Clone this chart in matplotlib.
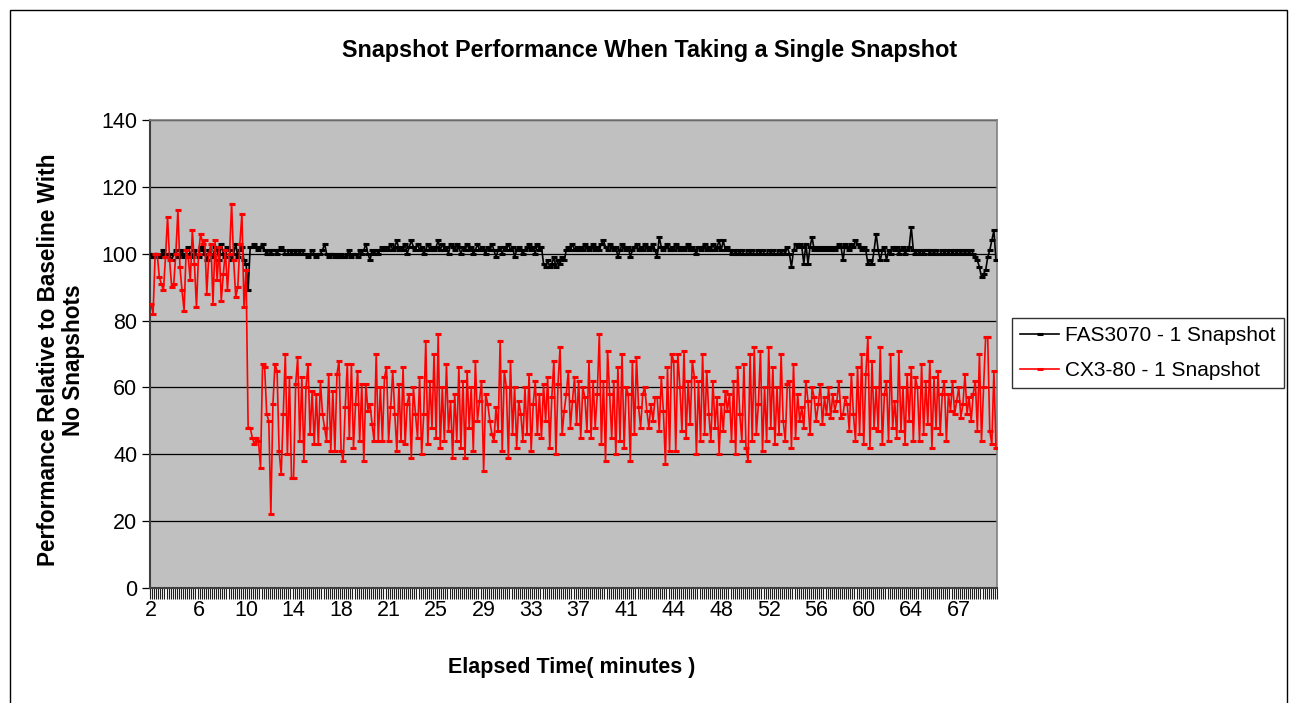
import matplotlib
matplotlib.use("Agg")
import matplotlib.pyplot as plt
from matplotlib.patches import Rectangle
from matplotlib.ticker import FixedLocator

plt.rcParams['font.family'] = ['Liberation Sans', 'DejaVu Sans']

title = "Snapshot Performance When Taking a Single Snapshot"
xlabel = "Elapsed Time( minutes )"
ylabel = "Performance Relative to Baseline With\nNo Snapshots"
series_names = ["FAS3070 - 1 Snapshot", "CX3-80 - 1 Snapshot"]
tick_labels = ["2", "6", "10", "14", "18", "21", "25", "29", "33", "37",
               "41", "44", "48", "52", "56", "60", "64", "67"]
label_every = 23
yticks = [0, 20, 40, 60, 80, 100, 120, 140]

fas3070 = [
    100, 99, 100, 100, 99, 100, 101, 99, 100, 100, 98, 100, 101, 99, 100, 101, 99, 100, 102, 100, 99, 101, 100,
    99, 102, 101, 100, 98, 101, 100, 99, 102, 101, 98, 103, 100, 99, 102, 101, 98, 100, 103, 99, 101, 102, 98,
    97, 89, 102, 102, 103, 102, 101, 102, 103, 101, 100, 101, 100, 101, 101, 100, 101, 102, 101, 100, 100, 101, 100,
    101, 100, 101, 100, 101, 100, 100, 99, 100, 101, 100, 99, 100, 100, 101, 103, 100, 99, 100, 100, 99, 100, 99,
    100, 99, 99, 100, 101, 99, 100, 100, 99, 101, 100, 101, 103, 100, 98, 101, 100, 101, 100, 101, 102, 101, 102,
    101, 103, 101, 102, 104, 101, 102, 101, 103, 100, 102, 104, 102, 101, 103, 101, 102, 100, 101, 103, 101, 102, 101,
    102, 104, 101, 103, 101, 102, 100, 103, 102, 101, 103, 102, 100, 102, 101, 103, 101, 102, 100, 101, 103, 101, 102,
    101, 100, 102, 101, 103, 101, 99, 101, 102, 100, 102, 101, 103, 101, 102, 99, 101, 102, 101, 100, 101, 102, 103,
    101, 102, 100, 103, 101, 102, 97, 96, 98, 96, 97, 99, 96, 98, 97, 99, 98, 101, 102, 101, 103, 101, 102,
    101, 102, 101, 103, 102, 101, 102, 103, 101, 102, 101, 103, 104, 102, 101, 103, 102, 101, 102, 99, 101, 103, 102,
    101, 102, 99, 101, 102, 103, 101, 102, 101, 103, 102, 101, 102, 103, 101, 99, 105, 102, 101, 102, 103, 101, 102,
    101, 103, 102, 101, 102, 101, 102, 103, 101, 102, 101, 100, 102, 101, 102, 103, 101, 102, 101, 103, 101, 102, 104,
    101, 104, 101, 102, 101, 100, 101, 100, 101, 100, 101, 100, 100, 101, 100, 101, 100, 100, 101, 100, 101, 100, 100,
    101, 100, 101, 100, 100, 101, 100, 101, 100, 102, 100, 96, 101, 103, 102, 103, 102, 97, 103, 97, 102, 105, 101,
    102, 101, 102, 101, 102, 101, 102, 101, 102, 101, 102, 103, 102, 98, 103, 102, 101, 103, 102, 104, 103, 102, 101,
    102, 101, 97, 98, 97, 101, 106, 101, 98, 101, 102, 98, 101, 100, 102, 101, 102, 100, 101, 102, 100, 101, 102,
    108, 101, 100, 101, 100, 101, 100, 101, 101, 100, 101, 100, 101, 100, 100, 101, 100, 101, 100, 101, 100, 101, 100,
    101, 100, 101, 100, 101, 100, 101, 100, 99, 98, 96, 93, 94, 95, 99, 101, 104, 107, 98,
]

cx3_80 = [
    85, 82, 100, 100, 93, 91, 89, 99, 111, 98, 90, 91, 100, 113, 96, 89, 83, 101, 99, 92, 107, 97, 84,
    100, 106, 103, 104, 88, 100, 103, 85, 104, 92, 102, 86, 94, 101, 89, 100, 115, 98, 87, 90, 103, 112, 84,
    95, 48, 48, 45, 43, 45, 44, 36, 67, 66, 52, 50, 22, 55, 67, 65, 41, 34, 52, 70, 40, 63, 33,
    33, 61, 69, 44, 63, 38, 60, 67, 46, 59, 43, 58, 43, 62, 52, 48, 44, 64, 41, 59, 41, 64, 68,
    41, 38, 54, 67, 45, 67, 42, 55, 65, 44, 61, 38, 61, 53, 55, 49, 44, 70, 44, 60, 44, 63, 66,
    44, 54, 65, 52, 41, 61, 44, 66, 43, 55, 58, 39, 60, 52, 45, 63, 40, 52, 74, 43, 62, 48, 70,
    45, 76, 42, 60, 44, 67, 47, 56, 39, 58, 44, 66, 42, 62, 39, 65, 48, 60, 41, 68, 50, 56, 62,
    35, 58, 55, 50, 46, 44, 54, 47, 74, 41, 65, 60, 39, 68, 46, 60, 42, 56, 52, 44, 60, 46, 64,
    41, 55, 62, 46, 58, 45, 61, 50, 63, 42, 57, 68, 40, 61, 72, 46, 53, 58, 65, 48, 56, 63, 49,
    62, 45, 60, 57, 47, 68, 45, 62, 48, 58, 76, 43, 62, 38, 71, 58, 45, 62, 40, 66, 44, 70, 42,
    60, 58, 38, 68, 46, 69, 54, 48, 58, 60, 53, 48, 55, 50, 57, 57, 47, 63, 53, 37, 66, 41, 70,
    68, 41, 70, 60, 47, 71, 45, 62, 49, 68, 63, 40, 62, 44, 70, 46, 65, 52, 44, 62, 48, 57, 40,
    55, 47, 59, 53, 58, 44, 62, 40, 66, 52, 44, 67, 42, 38, 70, 44, 72, 46, 55, 71, 41, 60, 44,
    72, 48, 66, 43, 60, 46, 70, 50, 44, 61, 62, 42, 67, 45, 58, 50, 54, 48, 62, 56, 46, 60, 57,
    50, 55, 61, 49, 57, 52, 60, 51, 58, 53, 56, 62, 51, 52, 57, 55, 47, 64, 52, 44, 66, 46, 70,
    43, 64, 75, 42, 68, 48, 60, 47, 72, 43, 58, 62, 44, 70, 48, 56, 45, 71, 47, 60, 43, 64, 50,
    66, 44, 63, 60, 44, 67, 46, 62, 49, 68, 42, 63, 48, 65, 46, 58, 62, 44, 58, 53, 62, 52, 56,
    60, 51, 55, 64, 52, 57, 50, 58, 62, 47, 70, 44, 60, 75, 75, 47, 43, 65, 42,
]

W, H = 1289, 703
fig = plt.figure(figsize=(W / 100, H / 100), dpi=100)
fig.patch.set_facecolor('white')

# outer chart border
fig.add_artist(Rectangle((10 / W, -0.02), 1277 / W, 1 - 10 / H + 0.02,
                         transform=fig.transFigure, fill=False,
                         edgecolor='black', lw=1.0))

L, R, T, B = 150, 997, 120, 588
ax = fig.add_axes([L / W, 1 - B / H, (R - L) / W, (B - T) / H])
ax.set_facecolor('#C0C0C0')

n = len(fas3070)
x = list(range(n))
ax.plot(x, fas3070, color='black', lw=1.2, marker='_', ms=5, mew=2.2,
        label=series_names[0], zorder=3)
ax.plot(x, cx3_80, color='#FF0000', lw=1.2, marker='_', ms=5, mew=2.2,
        label=series_names[1], zorder=4)

ax.set_xlim(-0.5, n - 0.5)
ax.set_ylim(0, 140)
ax.set_yticks(yticks)
ax.yaxis.grid(True, color='black', lw=0.9)
ax.set_axisbelow(True)

ax.set_xticks([i * label_every for i in range(len(tick_labels))])
ax.set_xticklabels(tick_labels)
ax.xaxis.set_minor_locator(FixedLocator([i + 0.5 for i in range(-1, n)]))
ax.tick_params(axis='x', which='major', length=0, pad=8.3, labelsize=15.5)
ax.tick_params(axis='x', which='minor', length=8, width=0.8, color='#202020', direction='out')
ax.tick_params(axis='y', which='major', length=6, width=0.9, labelsize=15.5, pad=3)

for s in ['top', 'right']:
    ax.spines[s].set_color('#808080')
    ax.spines[s].set_linewidth(1.2)
for s in ['left', 'bottom']:
    ax.spines[s].set_color('#404040')
    ax.spines[s].set_linewidth(1.5)

fig.text(650 / W, 1 - 50 / H, title, ha='center', va='center',
         fontsize=16.8, fontweight='bold')
fig.text(572 / W, 1 - 668 / H, xlabel, ha='center', va='center',
         fontsize=15.5, fontweight='bold')
fig.text(61 / W, 1 - 360 / H, ylabel, ha='center', va='center', rotation=90,
         fontsize=16.3, fontweight='bold', multialignment='center', linespacing=1.15)

leg = fig.legend(loc='center left', bbox_to_anchor=(1012 / W, 1 - 353 / H),
                 frameon=True, fancybox=False, fontsize=15,
                 handlelength=1.85, handletextpad=0.3, borderpad=0.4,
                 labelspacing=0.75, borderaxespad=0)
leg.get_frame().set_edgecolor('black')
leg.get_frame().set_linewidth(1.0)

fig.savefig('out.png', dpi=100)
